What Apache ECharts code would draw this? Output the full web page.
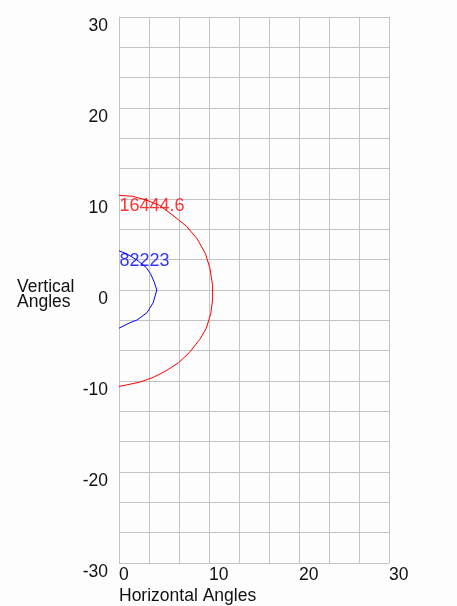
<!DOCTYPE html>
<html>
<head>
<meta charset="utf-8">
<script src="https://cdn.jsdelivr.net/npm/echarts@6/dist/echarts.min.js"></script>
<style>
  html, body { margin: 0; padding: 0; background: #fdfdfd; }
  #main { width: 457px; height: 606px; }
</style>
</head>
<body>
<div id="main"></div>
<script>
// contour at 16444.6 (red) and 82223 (blue)
const redLabel = '16444.6';
const redX = [0, 1.5, 3, 4.5, 6, 7.5, 8.7, 9.6, 10.1, 10.4, 10.4, 10.2, 9.7, 9.0, 7.8, 6.6, 5.2, 3.8, 2.4, 1.0, 0];
const redY = [10.4, 10.3, 9.9, 9.3, 8.2, 7.0, 5.6, 4.0, 2.4, 0.5, -1.0, -2.6, -4.2, -5.4, -6.9, -8.0, -8.9, -9.6, -10.1, -10.4, -10.6];

const blueLabel = '82223';
const blueX = [0, 0.8, 2.0, 3.0, 3.5, 3.9, 4.2, 3.8, 3.1, 2.0, 1.2, 0];
const blueY = [4.3, 4.0, 3.3, 2.5, 1.8, 0.9, 0, -1.4, -2.5, -3.3, -3.6, -4.2];

const xMin = 0, xMax = 30, xStep = 10;
const yMin = -30, yMax = 30, yStep = 10;

const font = 'Liberation Sans, Arial, sans-serif';
const gridColor = '#c4c4c4';

const zip = (xs, ys) => xs.map((x, i) => [x, ys[i]]);

function contour(name, xs, ys, color) {
    return [{
        name,
        type: 'line',
        data: zip(xs, ys),
        showSymbol: false,
        lineStyle: { color, width: 1 },
        silent: true
    }, {
        // label sits at the start of the curve
        type: 'scatter',
        data: [[xs[0], ys[0]]],
        symbolSize: 1,
        itemStyle: { color: 'transparent' },
        label: {
            show: true,
            formatter: name,
            position: [1, 2],
            align: 'left',
            verticalAlign: 'top',
            color,
            fontSize: 18,
            fontFamily: font
        },
        silent: true
    }];
}

const myChart = echarts.init(document.getElementById('main'), null, {renderer: 'canvas'});

const axisCommon = {
    type: 'value',
    axisLine: { show: true, lineStyle: { color: gridColor, width: 1 } },
    axisTick: { show: false },
    minorTick: { show: false, splitNumber: 3 },
    splitLine: { show: true, lineStyle: { color: gridColor, width: 1 } },
    minorSplitLine: { show: true, lineStyle: { color: gridColor, width: 1 } }
};

myChart.setOption({
    animation: false,
    backgroundColor: '#fdfdfd',
    grid: { left: 119, right: 68, top: 17, bottom: 43 },
    xAxis: Object.assign({}, axisCommon, {
        min: xMin, max: xMax, interval: xStep,
        axisLabel: {
            color: '#111', fontSize: 17.5, fontFamily: font,
            align: 'left', margin: 3,
            showMinLabel: true, showMaxLabel: true
        }
    }),
    yAxis: Object.assign({}, axisCommon, {
        min: yMin, max: yMax, interval: yStep,
        axisLabel: {
            color: '#111', fontSize: 17.5, fontFamily: font,
            verticalAlign: 'top', margin: 11,
            showMinLabel: true, showMaxLabel: true
        }
    }),
    graphic: [{
        type: 'text', left: 17, top: 278,
        style: { text: 'Vertical\nAngles', fill: '#111', fontSize: 17.5, fontFamily: font, lineHeight: 15 }
    }, {
        type: 'text', left: 119, top: 587,
        style: { text: 'Horizontal Angles', fill: '#111', fontSize: 17.5, fontFamily: font }
    }],
    series: [
        ...contour(redLabel, redX, redY, '#ff0000'),
        ...contour(blueLabel, blueX, blueY, '#0000ff')
    ]
});
</script>
</body>
</html>
